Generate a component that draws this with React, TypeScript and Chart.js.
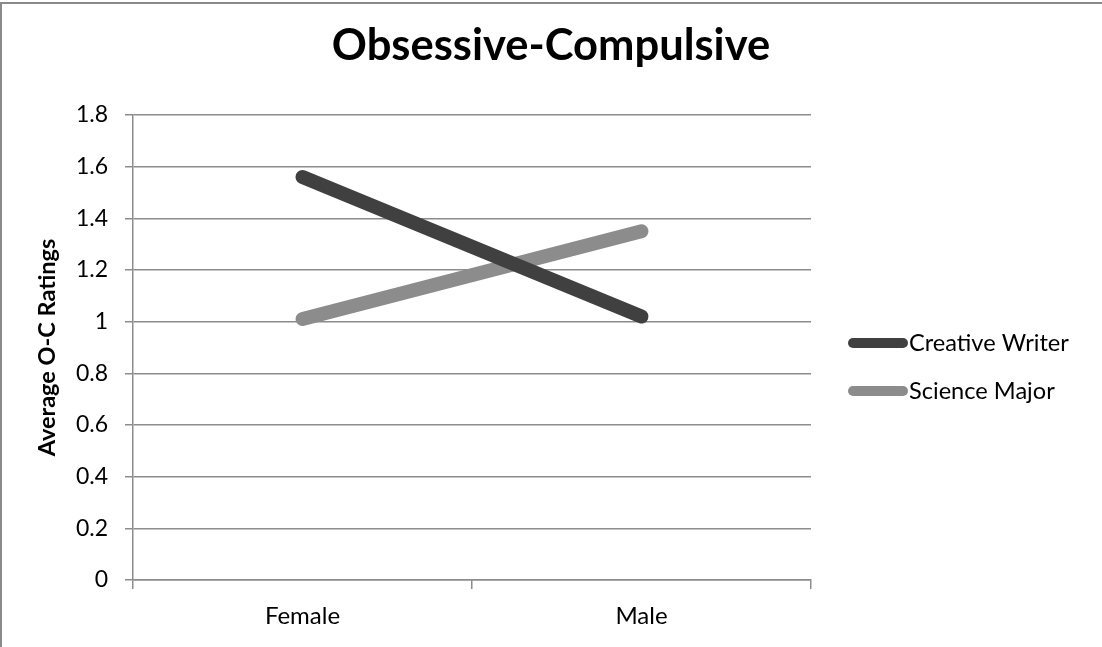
import React, { useEffect, useRef } from 'react';
import { Chart, registerables } from 'chart.js';

Chart.register(...registerables);

const categories = ['Female', 'Male'];
const seriesNames = ['Creative Writer', 'Science Major'];
const creativeWriter = [1.56, 1.02];
const scienceMajor = [1.01, 1.35];
const yTicks = [0, 0.2, 0.4, 0.6, 0.8, 1.0, 1.2, 1.4, 1.6, 1.8];
const chartTitle = 'Obsessive-Compulsive';
const yAxisTitle = 'Average O-C Ratings';

const FONT = 'Lato';
const GRID = '#8c8c8c';

const legendPlugin = {
  id: 'sideLegend',
  afterDraw(chart: any) {
    const { ctx, chartArea } = chart;
    const x0 = chartArea.right + 42;
    let y = chartArea.top + 228;
    ctx.save();
    chart.data.datasets.forEach((ds: any) => {
      ctx.strokeStyle = ds.borderColor;
      ctx.lineWidth = 10;
      ctx.lineCap = 'round';
      ctx.beginPath();
      ctx.moveTo(x0, y);
      ctx.lineTo(x0 + 50, y);
      ctx.stroke();
      ctx.fillStyle = '#000';
      ctx.font = `23.6px ${FONT}`;
      ctx.textBaseline = 'middle';
      ctx.textAlign = 'left';
      ctx.fillText(ds.label, x0 + 56, y);
      y += 48;
    });
    ctx.restore();
  },
};

export default function App() {
  const ref = useRef<HTMLCanvasElement | null>(null);

  useEffect(() => {
    const canvas = ref.current!;
    const chart = new Chart(canvas, {
      type: 'line',
      data: {
        labels: categories,
        datasets: [
          {
            label: seriesNames[0],
            data: creativeWriter,
            borderColor: '#404040',
            backgroundColor: '#404040',
            borderWidth: 14,
            borderCapStyle: 'round',
            pointRadius: 0,
            fill: false,
          },
          {
            label: seriesNames[1],
            data: scienceMajor,
            borderColor: '#8c8c8c',
            backgroundColor: '#8c8c8c',
            borderWidth: 14,
            borderCapStyle: 'round',
            pointRadius: 0,
            fill: false,
          },
        ],
      },
      options: {
        responsive: false,
        animation: false,
        devicePixelRatio: 1,
        layout: { padding: 0 },
        plugins: {
          legend: { display: false },
          tooltip: { enabled: false },
          title: {
            display: true,
            text: chartTitle,
            color: '#000',
            font: { family: FONT, size: 43.5, weight: 'bold', lineHeight: 1.2 },
            padding: { top: 19.6, bottom: 43.2 },
          },
        },
        scales: {
          x: {
            type: 'category',
            offset: true,
            grid: {
              offset: true,
              drawOnChartArea: false,
              drawTicks: true,
              tickLength: 9,
              color: GRID,
              lineWidth: 1.5,
            },
            border: { display: true, color: GRID, width: 1.5 },
            ticks: { color: '#000', font: { family: FONT, size: 24 }, padding: 13 },
            afterFit: (s: any) => {
              s.height = 67;
            },
          },
          y: {
            type: 'linear',
            min: 0,
            max: 1.8,
            afterBuildTicks: (s: any) => {
              s.ticks = yTicks.map((v) => ({ value: v }));
            },
            grid: { color: GRID, lineWidth: 1.5, tickLength: 8, drawTicks: true },
            border: { display: true, color: GRID, width: 1.5 },
            ticks: {
              color: '#000',
              font: { family: FONT, size: 23 },
              padding: 17,
              callback: (v: any) => String(Number(Number(v).toFixed(1))),
            },
            title: {
              display: true,
              text: yAxisTitle,
              color: '#000',
              font: { family: FONT, size: 23.5, weight: 'bold', lineHeight: 1.2 },
              padding: { top: 33, bottom: 0 },
            },
            afterFit: (s: any) => {
              s.width = 133;
            },
          },
          spacer: {
            type: 'linear',
            position: 'right',
            display: true,
            grid: { display: false, drawOnChartArea: false },
            border: { display: false },
            ticks: { display: false },
            afterFit: (s: any) => {
              s.width = 291;
            },
          },
        },
      },
      plugins: [legendPlugin],
    } as any);

    return () => chart.destroy();
  }, []);

  return (
    <div style={{ position: 'fixed', left: 0, top: 0, width: 1102, height: 647, background: '#fff' }}>
      <canvas ref={ref} width={1102} height={647} style={{ width: 1102, height: 647, display: 'block' }} />
      <div
        style={{
          position: 'absolute',
          left: 0,
          top: 2,
          width: 1200,
          height: 700,
          borderTop: '2px solid #8a8a8a',
          borderLeft: '2px solid #8a8a8a',
          pointerEvents: 'none',
        }}
      />
    </div>
  );
}
